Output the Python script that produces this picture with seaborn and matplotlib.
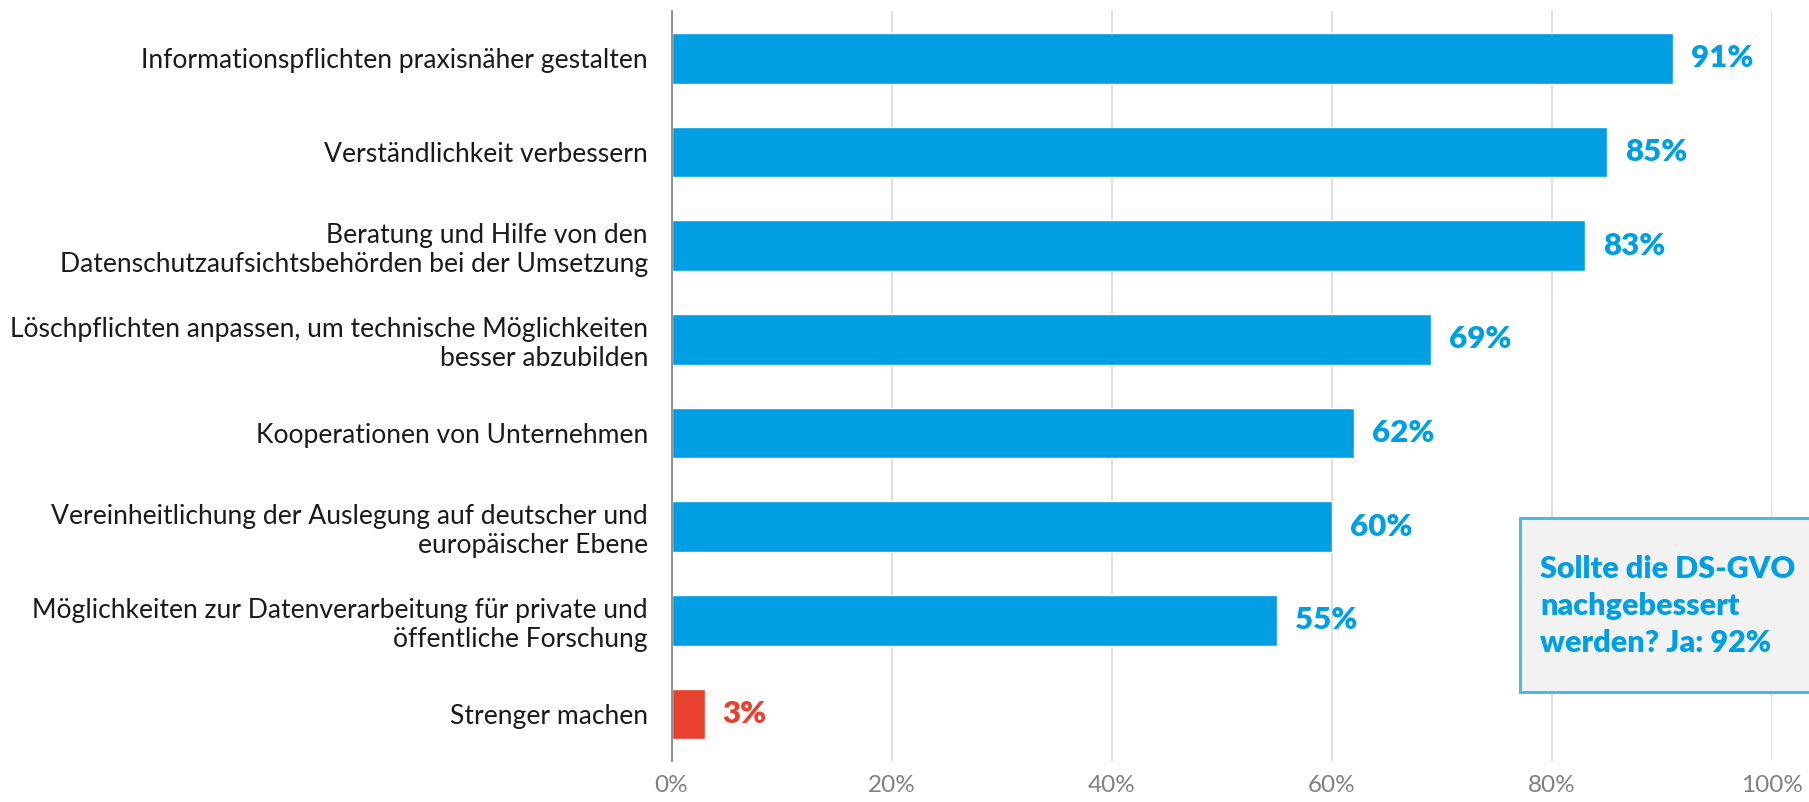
import matplotlib
matplotlib.use("Agg")
import matplotlib.pyplot as plt
import seaborn as sns
import pandas as pd
from matplotlib.patches import Rectangle

categories = [
    "Informationspflichten praxisnäher gestalten",
    "Verständlichkeit verbessern",
    "Beratung und Hilfe von den\nDatenschutzaufsichtsbehörden bei der Umsetzung",
    "Löschpflichten anpassen, um technische Möglichkeiten\nbesser abzubilden",
    "Kooperationen von Unternehmen",
    "Vereinheitlichung der Auslegung auf deutscher und\neuropäischer Ebene",
    "Möglichkeiten zur Datenverarbeitung für private und\nöffentliche Forschung",
    "Strenger machen",
]
values = [91, 85, 83, 69, 62, 60, 55, 3]
xticks = [0, 20, 40, 60, 80, 100]
xtick_labels = ["0%", "20%", "40%", "60%", "80%", "100%"]
box_lines = ["Sollte die DS-GVO", "nachgebessert", "werden? Ja: 92%"]

BLUE = "#009FE3"
RED = "#E84130"
colors = [BLUE] * 7 + [RED]

sns.set_theme(style="white")
plt.rcParams["font.family"] = ["Lato", "DejaVu Sans"]

df = pd.DataFrame({"cat": categories, "val": values})

fig = plt.figure(figsize=(18.09, 8.02), dpi=100)
ax = fig.add_axes([0.3712, 0.0511, 0.9796 - 0.3712, 0.9857 - 0.0511])

sns.barplot(data=df, y="cat", x="val", hue="cat", palette=colors,
            legend=False, orient="h", width=0.54, ax=ax, saturation=1)

ax.set_xlim(0, 100)
ax.set_ylim(7.5, -0.5)
ax.set_xticks(xticks)
ax.set_xticklabels(xtick_labels, color="#808080", fontsize=17.5)
ax.set_xlabel("")
ax.set_ylabel("")
ax.tick_params(axis="y", labelsize=19.1, pad=17, length=0, labelcolor="#1a1a1a")
ax.tick_params(axis="x", length=0, pad=10)
ax.xaxis.grid(True, color="#D9D9D9", linewidth=1.2)
ax.set_axisbelow(True)
for s in ["top", "right", "bottom"]:
    ax.spines[s].set_visible(False)
ax.spines["left"].set_color("#808080")
ax.spines["left"].set_linewidth(1.2)
ax.spines["left"].set_zorder(5)

for cont, col in zip(ax.containers, colors):
    ax.bar_label(cont, fmt="%d%%", padding=13, color=col,
                 fontsize=22.5, fontweight="heavy")

rect = Rectangle((1520 / 1809, 1 - 692 / 802), (1815 - 1520) / 1809,
                 (692 - 518) / 802, transform=fig.transFigure,
                 facecolor="#F2F2F2", edgecolor="#4DB8E8", linewidth=2.2,
                 zorder=10, clip_on=False)
fig.add_artist(rect)
fig.text(1540 / 1809, 1 - 606 / 802, "\n".join(box_lines),
         ha="left", va="center", color=BLUE, fontsize=22,
         fontweight="heavy", linespacing=1.4, zorder=11)

fig.savefig("out.png", dpi=100)
